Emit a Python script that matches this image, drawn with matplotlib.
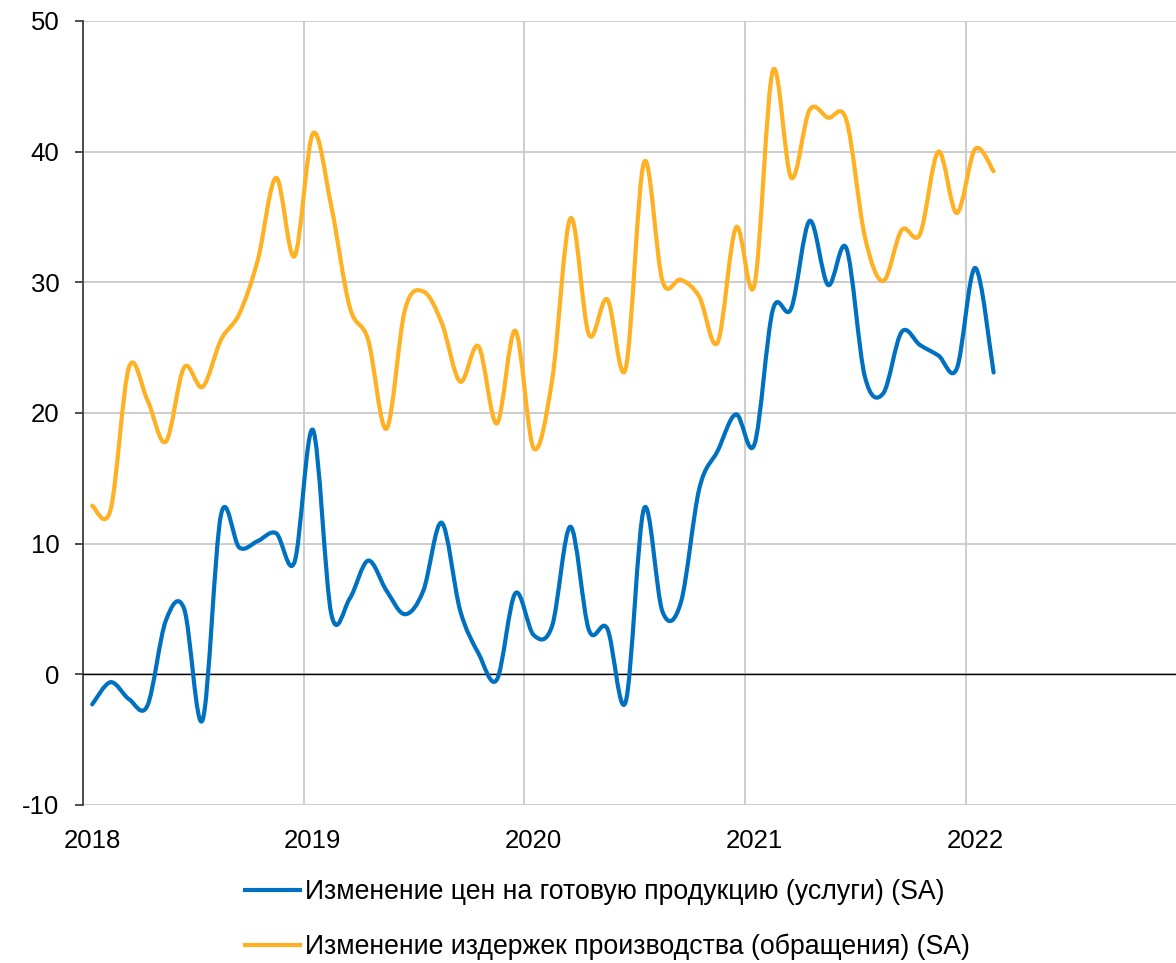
import matplotlib

matplotlib.use("Agg")
import matplotlib.pyplot as plt
import matplotlib.transforms as mtransforms
import numpy as np
from matplotlib.path import Path
from matplotlib.patches import PathPatch
from matplotlib.lines import Line2D

plt.rcParams["font.family"] = ["Liberation Sans", "DejaVu Sans"]

# monthly observations, Jan 2018 .. Feb 2022
start_year = 2018
n_months = 50
prices = [
    -2.3, -0.6, -1.9, -2.4, 4.1, 5.0, -3.5, 12.2, 9.7, 10.2, 10.8, 8.6,
    18.7, 4.6, 5.8, 8.7, 6.4, 4.6, 6.4, 11.6, 4.9, 1.6, -0.4, 6.2,
    3.0, 3.7, 11.3, 3.4, 3.5, -2.1, 12.7, 4.8, 5.5, 14.2, 17.1, 19.9,
    17.6, 27.9, 28.0, 34.7, 29.8, 32.6, 22.8, 21.5, 26.2, 25.2, 24.4, 23.4,
    31.1, 23.1,
]
costs = [
    12.9, 12.6, 23.5, 21.0, 17.8, 23.5, 22.0, 25.6, 27.6, 31.7, 38.0, 32.0,
    41.4, 35.8, 28.1, 25.6, 18.8, 27.9, 29.3, 26.9, 22.4, 25.1, 19.2, 26.3,
    17.3, 22.5, 34.9, 26.0, 28.7, 23.4, 39.2, 30.1, 30.2, 28.9, 25.4, 34.2,
    29.8, 46.2, 38.0, 43.2, 42.6, 42.4, 33.5, 30.1, 34.0, 33.7, 40.0, 35.3,
    40.2, 38.5,
]
labels = [
    "Изменение цен на готовую продукцию (услуги) (SA)",
    "Изменение издержек производства (обращения) (SA)",
]
years = [2018, 2019, 2020, 2021, 2022]
yticks = [-10, 0, 10, 20, 30, 40, 50]

BLUE = "#0070C0"
ORANGE = "#FFB023"

# points sit in the middle of each month
x = start_year + (np.arange(n_months) + 0.5) / 12.0


def smooth_path(xs, ys):
    # Catmull-Rom as cubic Bezier segments (Excel-style smoothed line)
    pts = np.column_stack([xs, ys])
    verts = [pts[0]]
    codes = [Path.MOVETO]
    for i in range(len(pts) - 1):
        p0 = pts[i - 1] if i > 0 else pts[i]
        p1 = pts[i]
        p2 = pts[i + 1]
        p3 = pts[i + 2] if i + 2 < len(pts) else pts[i + 1]
        verts += [p1 + (p2 - p0) / 6.0, p2 - (p3 - p1) / 6.0, p2]
        codes += [Path.CURVE4] * 3
    return Path(verts, codes)


fig = plt.figure(figsize=(11.76, 9.63), dpi=100)
ax = fig.add_axes([83 / 1176, 158 / 963, 1 - 83 / 1176, (805 - 21) / 963])

for ys, color in [(costs, ORANGE), (prices, BLUE)]:
    patch = PathPatch(smooth_path(x, np.asarray(ys, float)), facecolor="none",
                      edgecolor=color, lw=3.0, capstyle="round", joinstyle="round", zorder=4)
    ax.add_patch(patch)

ax.set_xlim(start_year, start_year + (1176 - 83) / 220.75)
ax.set_ylim(-10, 50)
ax.axhline(0, color="black", lw=1.0, zorder=3)

ax.set_yticks(yticks)
ax.set_yticklabels([str(v) for v in yticks])
ax.set_xticks(years)
ax.set_xticklabels([str(v) for v in years])
ax.grid(True, color="#C9C9C9", lw=1.3, zorder=0)
ax.set_axisbelow(True)

for side in ["top", "right", "bottom"]:
    ax.spines[side].set_visible(False)
ax.spines["left"].set_color("#404040")
ax.spines["left"].set_linewidth(1.3)
ax.tick_params(axis="y", length=6, width=1.3, color="#404040", pad=11, labelsize=18.5)
ax.tick_params(axis="x", length=0, pad=17, labelsize=18.5)

shift = mtransforms.ScaledTranslation(9 / 100, 0, fig.dpi_scale_trans)
for lab in ax.get_xticklabels():
    lab.set_transform(lab.get_transform() + shift)

handles = [Line2D([0], [0], color=BLUE, lw=3.0), Line2D([0], [0], color=ORANGE, lw=3.0)]
fig.legend(handles, labels, loc="upper left", bbox_to_anchor=(245 / 1176, 1 - 879 / 963),
           frameon=False, fontsize=19.2, handlelength=2.05, handletextpad=0.19,
           labelspacing=1.08, borderpad=0, borderaxespad=0)

fig.savefig("out.png", dpi=100)
